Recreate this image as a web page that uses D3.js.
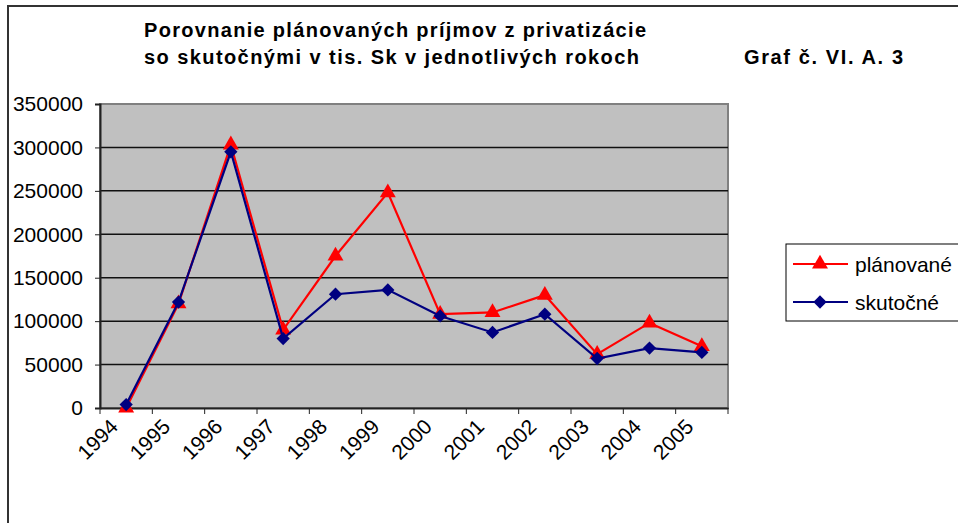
<!DOCTYPE html>
<html>
<head>
<meta charset="utf-8">
<script src="https://cdn.jsdelivr.net/npm/d3@7"></script>
<style>
  body { margin: 0; background: #fff; }
  svg text { font-family: "Liberation Sans", Arial, sans-serif; fill: #000; }
</style>
</head>
<body>
<div id="chart"></div>
<script>
// data (tis. Sk)
const years = ["1994", "1995", "1996", "1997", "1998", "1999", "2000", "2001", "2002", "2003", "2004", "2005"];
const planovane = [0, 120000, 303000, 90000, 175000, 248000, 108000, 110000, 130000, 62000, 98000, 71000];
const skutocne = [4000, 122000, 295000, 80000, 131000, 136000, 106000, 87000, 108000, 57000, 69000, 64000];
const yTicks = [0, 50000, 100000, 150000, 200000, 250000, 300000, 350000];

const W = 958, H = 523;
const plot = {left: 100, top: 104, right: 728, bottom: 408};

const svg = d3.select("#chart").append("svg")
    .attr("width", W)
    .attr("height", H);

// outer frame
svg.append("rect")
    .attr("x", 8).attr("y", 6)
    .attr("width", W + 10).attr("height", H + 10)
    .attr("fill", "none")
    .attr("stroke", "#333")
    .attr("stroke-width", 2);

// titles
svg.append("text").attr("x", 144).attr("y", 37)
    .attr("textLength", 502).attr("lengthAdjust", "spacing")
    .style("font-size", "20px").style("font-weight", "bold")
    .text("Porovnanie plánovaných príjmov z privatizácie");
svg.append("text").attr("x", 144).attr("y", 64)
    .attr("textLength", 495).attr("lengthAdjust", "spacing")
    .style("font-size", "20px").style("font-weight", "bold")
    .text("so skutočnými v tis. Sk v jednotlivých rokoch");
svg.append("text").attr("x", 744).attr("y", 64)
    .attr("textLength", 159).attr("lengthAdjust", "spacing")
    .style("font-size", "20px").style("font-weight", "bold")
    .text("Graf č. VI. A. 3");

// scales
let x = d3.scaleBand()
    .domain(years)
    .range([plot.left, plot.right]);
let y = d3.scaleLinear()
    .domain([0, 350000])
    .range([plot.bottom, plot.top]);

// plot background
svg.append("rect")
    .attr("x", plot.left).attr("y", plot.top)
    .attr("width", plot.right - plot.left).attr("height", plot.bottom - plot.top)
    .attr("fill", "#c0c0c0")
    .attr("stroke", "#808080")
    .attr("stroke-width", 2);

// gridlines
svg.append("g")
    .selectAll("line")
    .data(yTicks.filter(d => d > 0 && d < 350000))
    .enter().append("line")
    .attr("x1", plot.left).attr("x2", plot.right)
    .attr("y1", d => y(d)).attr("y2", d => y(d))
    .attr("stroke", "#111")
    .attr("stroke-width", 1.5);

// y axis
let yAxis = d3.axisLeft(y)
    .tickValues(yTicks)
    .tickSize(5)
    .tickPadding(12)
    .tickFormat(d3.format("d"));
let gy = svg.append("g")
    .attr("transform", `translate(${plot.left},0)`)
    .call(yAxis);
gy.select(".domain").attr("stroke", "#222").attr("stroke-width", 2);
gy.selectAll(".tick line").attr("stroke", "#222");
gy.selectAll(".tick text")
    .style("font-size", "21px")
    .attr("font-family", null);

// x axis - ticks between categories
let xAxis = d3.axisBottom(x).tickSize(0).tickFormat("");
let gx = svg.append("g")
    .attr("transform", `translate(0,${plot.bottom})`)
    .call(xAxis);
gx.select(".domain").attr("stroke", "#222").attr("stroke-width", 2);
gx.selectAll(".edge")
    .data(years.map(d => x(d)).concat([plot.right]))
    .enter().append("line")
    .attr("x1", d => d).attr("x2", d => d)
    .attr("y1", 0).attr("y2", 6)
    .attr("stroke", "#222");

svg.append("g")
    .selectAll("text")
    .data(years)
    .enter().append("text")
    .attr("transform", d => `translate(${x(d) + x.bandwidth() / 2 - 7},428) rotate(-45)`)
    .attr("text-anchor", "end")
    .style("font-size", "21px")
    .text(d => d);

// lines and markers
const cx = (d, i) => x(years[i]) + x.bandwidth() / 2;
let line = d3.line()
    .x(cx)
    .y(d => y(d));

const series = [
    {name: "plánované", values: planovane, color: "#ff0000", symbol: d3.symbolTriangle, size: 110, rot: 0},
    {name: "skutočné", values: skutocne, color: "#000080", symbol: d3.symbolSquare, size: 88, rot: 45}
];

series.forEach(s => {
    svg.append("path")
        .datum(s.values)
        .attr("d", line)
        .attr("fill", "none")
        .attr("stroke", s.color)
        .attr("stroke-width", 2.2);
    svg.append("g")
        .selectAll("path")
        .data(s.values)
        .enter().append("path")
        .attr("d", d3.symbol().type(s.symbol).size(s.size))
        .attr("transform", (d, i) => `translate(${cx(d, i)},${y(d)}) rotate(${s.rot})`)
        .attr("fill", s.color);
});

// legend
let legend = svg.append("g");
legend.append("rect")
    .attr("x", 786).attr("y", 244)
    .attr("width", 180).attr("height", 77)
    .attr("fill", "#fff")
    .attr("stroke", "#000")
    .attr("stroke-width", 1);
series.forEach((s, i) => {
    let ly = 264 + i * 38;
    legend.append("line")
        .attr("x1", 793).attr("x2", 848)
        .attr("y1", ly).attr("y2", ly)
        .attr("stroke", s.color)
        .attr("stroke-width", 2);
    legend.append("path")
        .attr("d", d3.symbol().type(s.symbol).size(s.size))
        .attr("transform", `translate(820,${ly}) rotate(${s.rot})`)
        .attr("fill", s.color);
    legend.append("text")
        .attr("x", 855).attr("y", ly + 8)
        .style("font-size", "21px")
        .text(s.name);
});
</script>
</body>
</html>
